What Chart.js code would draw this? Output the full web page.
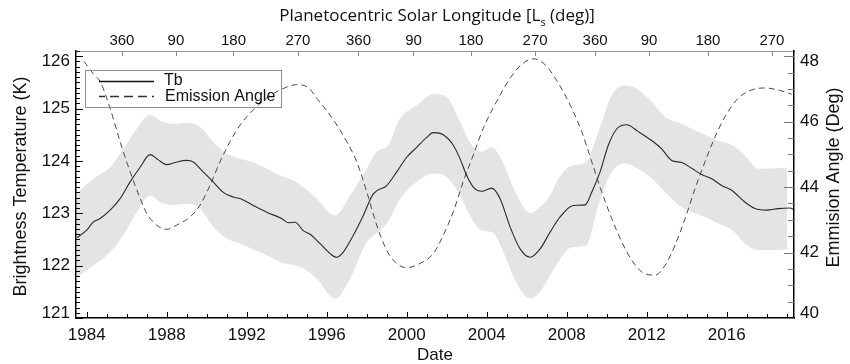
<!DOCTYPE html>
<html>
<head>
<meta charset="utf-8">
<script src="https://cdn.jsdelivr.net/npm/chart.js@4.4.1/dist/chart.umd.min.js"></script>
<style>
  html, body { margin: 0; padding: 0; background: #fff; }
  canvas { display: block; }
</style>
</head>
<body>
<canvas id="c" width="850" height="364"></canvas>
<script>
// Planetocentric solar longitude (Ls) tick positions, in decimal years
const lsTickYears = [1985.76, 1988.46, 1991.34, 1994.56, 1997.59, 2000.34,
                     2003.21, 2006.42, 2009.42, 2012.12, 2015.06, 2018.26];
const lsTickLabels = ['360', '90', '180', '270', '360', '90',
                      '180', '270', '360', '90', '180', '270'];

// Brightness temperature (K)
const tbYears = [1983.50, 1984.00, 1984.33, 1984.67, 1985.17, 1985.67, 1986.17, 1986.67,
  1987.17, 1987.58, 1988.00, 1988.42, 1989.00, 1989.33, 1989.75, 1990.25, 1990.83,
  1991.33, 1991.75, 1992.33, 1993.00, 1993.75, 1994.08, 1994.42, 1994.83, 1995.17,
  1995.67, 1996.17, 1996.50, 1996.83, 1997.33, 1997.83, 1998.33, 1999.00, 1999.50,
  2000.00, 2000.50, 2001.00, 2001.33, 2001.83, 2002.33, 2002.67, 2003.00, 2003.33,
  2003.75, 2004.25, 2004.67, 2005.17, 2005.67, 2006.17, 2006.67, 2007.17, 2007.67,
  2008.33, 2008.92, 2009.25, 2009.67, 2010.08, 2010.50, 2011.00, 2011.58, 2012.25,
  2012.75, 2013.25, 2013.75, 2014.25, 2014.75, 2015.25, 2015.75, 2016.25, 2016.92,
  2017.42, 2018.00, 2018.58, 2019.17, 2019.33];
const tbValues = [122.53, 122.68, 122.83, 122.90, 123.06, 123.28, 123.60, 123.88,
  124.12, 124.02, 123.93, 123.97, 124.01, 123.98, 123.82, 123.63, 123.40,
  123.31, 123.27, 123.15, 123.02, 122.90, 122.82, 122.83, 122.67, 122.60,
  122.42, 122.23, 122.16, 122.26, 122.58, 122.96, 123.37, 123.53, 123.79,
  124.07, 124.26, 124.45, 124.54, 124.50, 124.30, 124.04, 123.72, 123.50,
  123.42, 123.48, 123.28, 122.74, 122.32, 122.16, 122.32, 122.64, 122.93,
  123.15, 123.16, 123.40, 123.79, 124.30, 124.61, 124.69, 124.56, 124.39,
  124.23, 124.01, 123.97, 123.86, 123.74, 123.66, 123.53, 123.44, 123.21,
  123.09, 123.06, 123.09, 123.10, 123.08];

// Uncertainty envelope of Tb (K)
const bandYears = [1983.50, 1984.33, 1985.17, 1985.83, 1986.50, 1987.17, 1987.67, 1988.33,
  1989.00, 1989.67, 1990.33, 1991.00, 1991.67, 1992.33, 1993.00, 1993.67, 1994.33,
  1994.82, 1995.50, 1996.42, 1997.17, 1998.00, 1998.50, 1999.08, 1999.67, 2000.50,
  2001.33, 2002.00, 2002.67, 2003.25, 2003.75, 2004.27, 2004.77, 2005.42, 2006.17,
  2006.67, 2007.17, 2007.58, 2008.25, 2008.97, 2009.58, 2010.25, 2010.92, 2011.52,
  2012.27, 2012.92, 2013.62, 2014.27, 2014.92, 2015.60, 2016.27, 2016.92, 2017.57,
  2018.57, 2019.02];
const bandUpper = [123.37, 123.66, 123.88, 124.23, 124.61, 124.88, 124.77, 124.71,
  124.73, 124.65, 124.36, 124.14, 124.04, 123.97, 123.85, 123.72, 123.63,
  123.50, 123.28, 122.96, 123.34, 123.85, 124.17, 124.30, 124.81, 125.06,
  125.28, 125.22, 124.74, 124.30, 124.18, 124.26, 124.00, 123.42, 123.00,
  123.12, 123.34, 123.66, 123.91, 123.98, 124.55, 125.25, 125.44, 125.38,
  125.12, 124.84, 124.73, 124.61, 124.50, 124.38, 124.30, 124.10, 123.85,
  123.86, 123.87];
const bandLower = [121.78, 122.00, 122.26, 122.58, 123.02, 123.34, 123.21, 123.16,
  123.18, 123.09, 122.74, 122.52, 122.42, 122.31, 122.20, 122.07, 122.01,
  121.95, 121.75, 121.37, 121.75, 122.45, 122.62, 122.85, 123.28, 123.60,
  123.76, 123.69, 123.34, 122.90, 122.67, 122.64, 122.32, 121.72, 121.37,
  121.50, 121.81, 122.07, 122.35, 122.39, 123.15, 123.79, 123.95, 123.86,
  123.66, 123.40, 123.15, 123.02, 122.93, 122.80, 122.68, 122.42, 122.30,
  122.30, 122.32];

// Emission angle (deg)
const angleYears = [1983.87, 1984.33, 1984.67, 1985.17, 1985.67, 1986.17, 1986.67, 1987.00,
  1987.50, 1988.00, 1988.50, 1989.17, 1989.67, 1990.17, 1990.67, 1991.17, 1991.67,
  1992.33, 1993.00, 1993.67, 1994.50, 1995.08, 1995.50, 1996.33, 1997.00, 1997.50,
  1998.00, 1998.50, 1999.00, 1999.50, 2000.00, 2000.67, 2001.33, 2001.83, 2002.33,
  2002.83, 2003.33, 2003.83, 2004.50, 2005.17, 2005.83, 2006.33, 2006.92, 2007.58,
  2008.25, 2008.75, 2009.25, 2009.75, 2010.25, 2010.75, 2011.25, 2011.75, 2012.42,
  2012.92, 2013.42, 2013.92, 2014.42, 2014.92, 2015.42, 2015.92, 2016.58, 2017.25,
  2017.92, 2018.58, 2019.25];
const angleValues = [47.84, 47.46, 47.23, 46.41, 45.39, 44.47, 43.66, 43.20,
  42.84, 42.71, 42.84, 43.09, 43.45, 44.06, 44.78, 45.39, 45.90,
  46.36, 46.72, 46.97, 47.13, 47.04, 46.72, 46.06, 45.39, 44.78,
  43.86, 42.84, 42.07, 41.67, 41.54, 41.67, 41.97, 42.53, 43.25,
  44.17, 44.98, 45.80, 46.62, 47.33, 47.79, 47.92, 47.74, 47.18,
  46.41, 45.70, 44.78, 43.86, 43.04, 42.33, 41.77, 41.41, 41.31,
  41.61, 42.23, 43.04, 43.96, 44.78, 45.54, 46.16, 46.72, 46.97,
  47.03, 46.97, 46.84];

const X_MIN = 1983.465, X_MAX = 2019.365;
const SANS = "'Liberation Sans', Arial, Helvetica, sans-serif";
const TITLE_SANS = "'Open Sans', 'Noto Sans', sans-serif";

const pts = (xs, ys) => xs.map((x, i) => ({ x, y: ys[i] }));

// Inward tick marks, tick labels, axis titles and the framed legend
const frameDecor = {
  id: 'frameDecor',
  afterDraw(chart) {
    const { ctx, chartArea: a, scales } = chart;
    const { x, xTop, y, y2 } = scales;
    const seg = (x0, y0, x1, y1) => { ctx.beginPath(); ctx.moveTo(x0, y0); ctx.lineTo(x1, y1); ctx.stroke(); };
    const crisp = v => Math.round(v) + 0.5;
    ctx.save();
    ctx.lineWidth = 1;

    // left axis: major every 1 K, minor every 0.1 K
    ctx.strokeStyle = '#000';
    for (let k = Math.ceil(y.min * 10); k <= Math.floor(y.max * 10 + 1e-6); k++) {
      const py = crisp(y.getPixelForValue(k / 10));
      seg(a.left, py, a.left + (k % 10 === 0 ? 7 : 4), py);
    }
    // right axis: major every 2 deg, minor every 0.5 deg
    ctx.strokeStyle = '#777';
    for (let k = Math.ceil(y2.min * 2); k <= Math.floor(y2.max * 2 + 1e-6); k++) {
      const py = crisp(y2.getPixelForValue(k / 2));
      seg(a.right, py, a.right - (k % 4 === 0 ? 10 : 6), py);
    }
    // bottom axis: major every 4 years, minor every year
    ctx.strokeStyle = '#000';
    for (let yr = Math.ceil(x.min); yr <= Math.floor(x.max); yr++) {
      const px = crisp(x.getPixelForValue(yr));
      seg(px, a.bottom, px, a.bottom - (yr % 4 === 0 ? 6 : 4));
    }
    // top axis: Ls ticks
    ctx.strokeStyle = '#8a8a8a';
    xTop.ticks.forEach(t => {
      const px = crisp(xTop.getPixelForValue(t.value));
      seg(px, a.top, px, a.top + 5);
    });

    // vertical axis tick labels
    ctx.fillStyle = '#111';
    ctx.font = `17px ${SANS}`;
    ctx.textBaseline = 'middle';
    const clampY = v => Math.min(Math.max(v, a.top + 10), a.bottom - 5);
    ctx.textAlign = 'right';
    y.ticks.forEach(t => ctx.fillText(String(t.value), a.left - 6, clampY(y.getPixelForValue(t.value))));
    ctx.textAlign = 'left';
    y2.ticks.forEach(t => ctx.fillText(String(t.value), a.right + 6, clampY(y2.getPixelForValue(t.value))));

    // axis titles
    ctx.font = `18px ${SANS}`;
    ctx.textAlign = 'center';
    const vtext = (txt, cx, cy) => {
      ctx.save(); ctx.translate(cx, cy); ctx.rotate(-Math.PI / 2); ctx.fillText(txt, 0, 0); ctx.restore();
    };
    vtext('Brightness Temperature (K)', 21.5, 186.5);
    vtext('Emmision Angle (Deg)', 834, 177.5);
    ctx.font = `17px ${SANS}`;
    ctx.fillText('Date', (a.left + a.right) / 2, 355.5);

    // top title with subscript s
    const p1 = 'Planetocentric Solar Longitude [L', sub = 's', p2 = ' (deg)]';
    const mainFont = `17px ${TITLE_SANS}`, subFont = `11px ${TITLE_SANS}`;
    ctx.textBaseline = 'alphabetic';
    ctx.textAlign = 'left';
    ctx.font = mainFont;
    const w1 = ctx.measureText(p1).width, w2 = ctx.measureText(p2).width;
    ctx.font = subFont;
    const ws = ctx.measureText(sub).width;
    let sx = (a.left + a.right) / 2 + 2 - (w1 + ws + w2) / 2;
    ctx.font = mainFont;
    ctx.fillText(p1, sx, 20.7);
    ctx.font = subFont;
    ctx.fillText(sub, sx + w1, 25.5);
    ctx.font = mainFont;
    ctx.fillText(p2, sx + w1 + ws, 20.7);

    // legend
    const ds = chart.data.datasets;
    ctx.strokeStyle = '#8c8c8c';
    ctx.lineWidth = 1;
    ctx.strokeRect(85.5, 70.5, 196, 37);
    ctx.lineWidth = 1.5;
    ctx.strokeStyle = '#111';
    seg(99, 81.5, 154, 81.5);
    ctx.strokeStyle = '#333';
    ctx.setLineDash([9, 5]);
    ctx.lineDashOffset = 3;
    seg(99, 96.5, 154, 96.5);
    ctx.setLineDash([]);
    ctx.fillStyle = '#111';
    ctx.font = `16px ${SANS}`;
    ctx.textBaseline = 'middle';
    ctx.fillText(ds[0].label, 164, 81);
    ctx.fillText(ds[1].label, 165, 97);
    ctx.restore();
  }
};

const noGrid = { display: true, drawOnChartArea: false, drawTicks: false };

new Chart(document.getElementById('c'), {
  type: 'line',
  data: {
    datasets: [
      { label: 'Tb', data: pts(tbYears, tbValues), xAxisID: 'x', yAxisID: 'y',
        borderColor: '#2a2a2a', borderWidth: 1.1, pointRadius: 0, fill: false,
        cubicInterpolationMode: 'monotone', order: 0 },
      { label: 'Emission Angle', data: pts(angleYears, angleValues), xAxisID: 'x', yAxisID: 'y2',
        borderColor: '#4a4a4a', borderWidth: 1, borderDash: [6, 4], pointRadius: 0, fill: false,
        cubicInterpolationMode: 'monotone', order: 1 },
      { label: 'Tb upper', data: pts(bandYears, bandUpper), xAxisID: 'x', yAxisID: 'y',
        borderColor: 'rgba(0,0,0,0)', borderWidth: 0, pointRadius: 0, fill: false,
        cubicInterpolationMode: 'monotone', order: 2 },
      { label: 'Tb lower', data: pts(bandYears, bandLower), xAxisID: 'x', yAxisID: 'y',
        borderColor: 'rgba(0,0,0,0)', borderWidth: 0, pointRadius: 0, fill: '-1',
        backgroundColor: '#e4e4e4', cubicInterpolationMode: 'monotone', order: 2 }
    ]
  },
  options: {
    responsive: false,
    animation: false,
    events: [],
    layout: { padding: 0 },
    plugins: { legend: { display: false }, title: { display: false }, tooltip: { enabled: false } },
    scales: {
      x: {
        type: 'linear', position: 'bottom', min: X_MIN, max: X_MAX,
        grid: noGrid,
        border: { display: true, color: '#000', width: 1.5 },
        ticks: { stepSize: 4, includeBounds: false, padding: 7, color: '#111', autoSkip: false, maxRotation: 0,
                 font: { family: SANS, size: 17 }, callback: v => String(v) },
        afterFit: s => { s.height = 46; }
      },
      xTop: {
        type: 'linear', position: 'top', min: X_MIN, max: X_MAX,
        grid: noGrid,
        border: { display: true, color: '#9a9a9a', width: 1 },
        afterBuildTicks: s => { s.ticks = lsTickYears.map(v => ({ value: v })); },
        ticks: { padding: 1.5, color: '#111', autoSkip: false, maxRotation: 0,
                 font: { family: SANS, size: 15 }, callback: (v, i) => lsTickLabels[i] },
        afterFit: s => { s.height = 51; }
      },
      y: {
        position: 'left', min: 121, max: 126.1,
        grid: noGrid,
        border: { display: true, color: '#000', width: 1.5 },
        ticks: { display: false, stepSize: 1, includeBounds: false },
        afterFit: s => { s.width = 76; }
      },
      y2: {
        position: 'right', min: 40, max: 48.16,
        grid: noGrid,
        border: { display: true, color: '#000', width: 1.5 },
        ticks: { display: false, stepSize: 2, includeBounds: false },
        afterFit: s => { s.width = 56; }
      }
    }
  },
  plugins: [frameDecor]
});
</script>
</body>
</html>
